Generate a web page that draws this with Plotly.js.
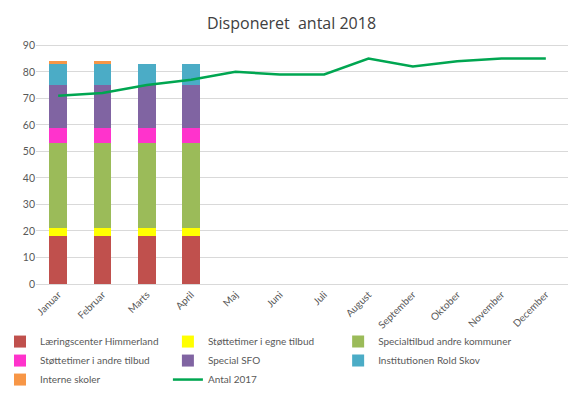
<!DOCTYPE html>
<html><head><meta charset="utf-8">
<script src="https://cdn.plot.ly/plotly-3.0.1.min.js"></script>
<style>body{margin:0}#c{width:583px;height:395px}</style>
</head><body><div id="c"></div>
<script>
const months = ["Januar","Februar","Marts","April","Maj","Juni","Juli","August","September","Oktober","November","December"];
const barMonths = ["Januar","Februar","Marts","April"];
const laering = [18,18,18,18];
const stotteEgne = [3,3,3,3];
const specialAndre = [32,32,32,32];
const stotteAndre = [6,6,6,6];
const specialSFO = [16,16,16,16];
const roldSkov = [8,8,8,8];
const interne = [1,1,0,0];
const antal2017 = [71,72,75,77,80,79,79,85,82,84,85,85];

const series = [
  ["Læringscenter Himmerland", laering, "#C0504D", "legend"],
  ["Støttetimer i egne tilbud", stotteEgne, "#FFFF00", "legend2"],
  ["Specialtilbud andre kommuner", specialAndre, "#9BBB59", "legend3"],
  ["Støttetimer i andre tilbud", stotteAndre, "#FF33CC", "legend"],
  ["Special SFO", specialSFO, "#8064A2", "legend2"],
  ["Institutionen Rold Skov", roldSkov, "#4BACC6", "legend3"],
  ["Interne skoler", interne, "#F79646", "legend"]
];
const traces = series.map(s => ({type:"bar", name:s[0], x:barMonths, y:s[1], marker:{color:s[2]}, width:0.4, legend:s[3]}));
traces.push({type:"scatter", mode:"lines", name:"Antal 2017", x:months, y:antal2017, line:{color:"#00A651", width:2.5}, legend:"legend2"});

const lg = (x) => ({orientation:"v", xref:"container", yref:"container", x:x, xanchor:"left", y:0.172, yanchor:"top", traceorder:"normal", font:{size:10, color:"#595959", family:"Lato, Open Sans, sans-serif"}, itemwidth:30, tracegroupgap:0, bgcolor:"rgba(0,0,0,0)"});

const layout = {
  width:583, height:395, barmode:"stack",
  margin:{l:36, r:15, t:40, b:111, autoexpand:false},
  paper_bgcolor:"#fff", plot_bgcolor:"#fff",
  font:{family:"Lato, Open Sans, Liberation Sans, sans-serif", color:"#595959", size:10},
  title:{text:"Disponeret  antal 2018", x:0.5, xanchor:"center", y:0.955, font:{size:16, color:"#404040", family:"Open Sans, sans-serif"}},
  xaxis:{categoryorder:"array", categoryarray:months, range:[-0.5,11.5], tickangle:-45, showgrid:false, showline:true, linecolor:"#d9d9d9", ticks:"", tickfont:{size:10}, automargin:false},
  yaxis:{range:[0,92], dtick:10, tick0:0, gridcolor:"#d9d9d9", zeroline:false, showline:false, tickfont:{size:10.5}, automargin:false},
  showlegend:true,
  legend:lg(0.0),
  legend2:lg(0.288),
  legend3:lg(0.58)
};
Plotly.newPlot("c", traces, layout, {staticPlot:true});
</script></body></html>
